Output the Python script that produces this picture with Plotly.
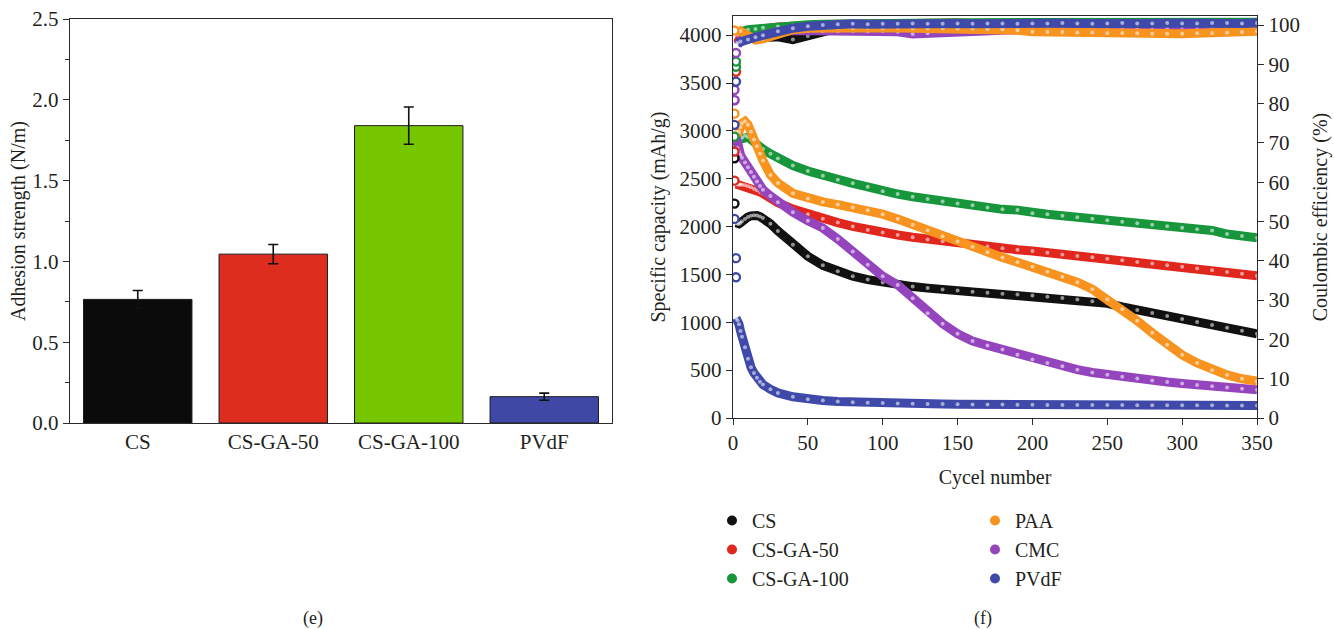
import plotly.graph_objects as go

# ---------------- (e) adhesion strength ----------------
binders = ["CS", "CS-GA-50", "CS-GA-100", "PVdF"]
adhesion = [0.765, 1.045, 1.840, 0.163]
adhesion_err = [0.055, 0.060, 0.115, 0.022]
bar_colors = ["#0b0b0b", "#dc2d1e", "#76c600", "#3f49a5"]

# ---------------- (f) cycling performance ----------------
series_names = ["CS", "CS-GA-50", "CS-GA-100", "PAA", "CMC", "PVdF"]
series_colors = ["#111111", "#e0261d", "#17963b", "#f7931e", "#9444bd", "#3f49a9"]

# cycle numbers at which capacity is listed
cycles = [2, 3, 4, 5, 6, 8, 10, 12, 14, 16, 18, 20, 25, 30,
          40, 50, 60, 70, 80, 90, 100, 110, 120, 130, 140, 150, 160, 170,
          180, 190, 200, 210, 220, 230, 240, 250, 260, 270, 280, 290, 300,
          310, 320, 330, 340, 350]

cap_cs = [2040, 2030, 2030, 2040, 2055, 2080, 2100, 2112, 2118, 2115, 2105, 2090, 2030, 1955,
          1810, 1690, 1595, 1532, 1482, 1446, 1416, 1392, 1373, 1357, 1343, 1331, 1320, 1309,
          1298, 1289, 1279, 1266, 1253, 1238, 1220, 1198, 1160, 1128, 1097, 1065, 1035,
          1003, 972, 942, 911, 880]
cap_ga50 = [2445, 2440, 2440, 2440, 2438, 2432, 2422, 2410, 2396, 2380, 2362, 2345, 2295, 2250,
            2183, 2128, 2082, 2042, 2002, 1965, 1938, 1912, 1888, 1866, 1846, 1828, 1810, 1791,
            1773, 1757, 1745, 1727, 1708, 1692, 1679, 1665, 1648, 1631, 1613, 1596, 1579,
            1561, 1544, 1526, 1507, 1487]
cap_ga100 = [2900, 2905, 2910, 2918, 2930, 2948, 2935, 2910, 2882, 2856, 2832, 2810, 2760, 2712,
             2637, 2580, 2532, 2488, 2452, 2415, 2368, 2340, 2312, 2287, 2263, 2242, 2222, 2200,
             2180, 2172, 2140, 2128, 2112, 2097, 2082, 2067, 2051, 2036, 2019, 2003, 1987,
             1973, 1960, 1922, 1902, 1882]
cap_paa = [2990, 2960, 2990, 3040, 3080, 3100, 3065, 2990, 2910, 2840, 2760, 2690, 2540, 2455,
           2348, 2293, 2258, 2230, 2200, 2170, 2130, 2078, 2018, 1958, 1900, 1843, 1788, 1733,
           1678, 1627, 1580, 1528, 1475, 1418, 1345, 1240, 1135, 1015, 890, 765, 660,
           575, 500, 450, 410, 385]
cap_cmc = [2950, 2820, 2780, 2750, 2720, 2670, 2620, 2570, 2520, 2470, 2425, 2385, 2320, 2255,
           2150, 2060, 1985, 1870, 1740, 1600, 1481, 1390, 1250, 1095, 985, 880, 805, 758,
           715, 662, 612, 575, 540, 505, 476, 452, 432, 412, 393, 376, 360,
           345, 331, 318, 306, 295]
cap_pvdf = [1045, 1020, 980, 910, 850, 740, 620, 530, 470, 420, 380, 350, 300, 262,
            222, 195, 182, 172, 165, 160, 156, 152, 149, 147, 145, 143, 142, 141,
            140, 139, 138, 137, 137, 136, 136, 135, 135, 134, 134, 133, 133,
            132, 132, 131, 131, 130]

# first-cycle capacity points
first_cyc_cs, first_cap_cs = [1], [2240]
first_cyc_ga50, first_cap_ga50 = [1], [2480]
first_cyc_ga100, first_cap_ga100 = [1], [2900]
first_cyc_paa, first_cap_paa = [1], [3180]
first_cyc_cmc, first_cap_cmc = [1], [3320]
first_cyc_pvdf, first_cap_pvdf = [1, 2, 2], [2080, 1670, 1470]

# coulombic efficiency
ce_cycles = [3, 5, 10, 15, 20, 30, 40, 50, 60, 70, 80, 90, 100, 110, 120, 130, 140,
             150, 160, 170, 180, 190, 200, 210, 220, 230, 240, 250, 260, 270, 280,
             290, 300, 310, 320, 330, 340, 350]
ce_cs = [95.0, 96.0, 96.6, 96.8, 96.8, 97.0, 96.3, 97.2, 98.4, 99.2, 99.6, 99.8, 99.9, 100.0,
         100.0, 100.1, 100.0, 100.1, 100.1, 100.2, 100.1, 100.2, 100.2, 100.1, 100.2, 100.2,
         100.3, 100.2, 100.2, 100.3, 100.2, 100.3, 100.3, 100.2, 100.3, 100.3, 100.3, 100.3]
ce_ga50 = [95.5, 97.0, 98.0, 98.6, 99.0, 99.5, 99.8, 100.0, 100.1, 100.2, 100.2, 100.3, 100.3,
           100.4, 100.3, 100.4, 100.4, 100.5, 100.4, 100.5, 100.5, 100.5, 100.5, 100.5, 100.5,
           100.5, 100.5, 100.5, 100.5, 100.5, 100.5, 100.5, 100.5, 100.5, 100.5, 100.5, 100.5, 100.5]
ce_ga100 = [97.5, 98.3, 98.8, 99.0, 99.3, 99.6, 99.9, 100.1, 100.2, 100.3, 100.3, 100.4, 100.4,
            100.5, 100.5, 100.5, 100.5, 100.6, 100.6, 100.6, 100.6, 100.6, 100.6, 100.6, 100.6,
            100.6, 100.6, 100.7, 100.7, 100.7, 100.7, 100.7, 100.7, 100.7, 100.7, 100.7, 100.7, 100.7]
ce_paa = [98.9, 98.5, 97.0, 96.2, 96.5, 97.8, 98.8, 99.2, 99.3, 99.3, 99.2, 99.3, 99.2, 99.3,
          99.2, 99.2, 99.2, 99.1, 99.1, 99.0, 98.9, 98.7, 98.3, 98.2, 98.2, 98.1, 98.1, 98.0,
          98.0, 97.9, 97.8, 97.8, 97.8, 97.9, 98.0, 98.1, 98.2, 98.4]
ce_cmc = [95.0, 96.0, 96.5, 97.0, 97.6, 98.3, 98.6, 98.5, 98.4, 98.4, 98.5, 98.4, 98.5, 98.3,
          97.7, 97.9, 98.4, 98.5, 98.6, 98.6, 98.7, 98.8, 99.2, 99.3, 99.3, 99.4, 99.3, 99.4,
          99.4, 99.4, 99.5, 99.4, 99.5, 99.5, 99.5, 99.6, 99.6, 99.6]
ce_pvdf = [95.4, 95.8, 96.3, 96.9, 97.4, 98.4, 99.2, 99.7, 100.0, 100.2, 100.3, 100.2, 100.3,
           100.3, 100.4, 100.3, 100.3, 100.4, 100.3, 100.4, 100.4, 100.3, 100.4, 100.4, 100.5,
           100.4, 100.3, 100.4, 100.5, 100.4, 100.4, 100.5, 100.4, 100.4, 100.5, 100.5, 100.4, 100.5]

# first-cycle efficiency points
first_ce_cyc_cs, first_ce_cs = [1], [66.1]
first_ce_cyc_ga50, first_ce_ga50 = [1, 2], [67.8, 88.1]
first_ce_cyc_ga100, first_ce_ga100 = [1, 2, 2], [71.6, 89.4, 90.7]
first_ce_cyc_paa, first_ce_paa = [1], [98.6]
first_ce_cyc_cmc, first_ce_cmc = [1, 1, 2], [80.9, 83.5, 92.9]
first_ce_cyc_pvdf, first_ce_pvdf = [1, 2], [74.6, 85.6]

cap_main = [cap_cs, cap_ga50, cap_ga100, cap_paa, cap_cmc, cap_pvdf]
cap_first = [(first_cyc_cs, first_cap_cs), (first_cyc_ga50, first_cap_ga50),
             (first_cyc_ga100, first_cap_ga100), (first_cyc_paa, first_cap_paa),
             (first_cyc_cmc, first_cap_cmc), (first_cyc_pvdf, first_cap_pvdf)]
ce_main = [ce_cs, ce_ga50, ce_ga100, ce_paa, ce_cmc, ce_pvdf]
ce_first = [(first_ce_cyc_cs, first_ce_cs), (first_ce_cyc_ga50, first_ce_ga50),
            (first_ce_cyc_ga100, first_ce_ga100), (first_ce_cyc_paa, first_ce_paa),
            (first_ce_cyc_cmc, first_ce_cmc), (first_ce_cyc_pvdf, first_ce_pvdf)]

FONT = "Liberation Serif"
TXT = "#231f20"
AX = "#2b2b2b"
W, H = 1334, 629
TICK_SIZE = 21
TITLE_SIZE = 20

fig = go.Figure()

# bars with error bars
fig.add_trace(go.Bar(
    x=binders, y=adhesion,
    marker=dict(color=bar_colors, line=dict(color="#1a1a1a", width=1)),
    error_y=dict(type="data", array=adhesion_err, visible=True,
                 color="#111111", thickness=1.6, width=5),
    width=0.8, xaxis="x", yaxis="y", showlegend=False,
))

# drawing order so that later curves sit on top where they cross
order = [0, 1, 2, 4, 3, 5]
band_w = 9

for i in order:
    col = series_colors[i]
    # efficiency band (right axis)
    fig.add_trace(go.Scatter(
        x=ce_cycles, y=ce_main[i], mode="lines+markers",
        line=dict(color=col, width=band_w),
        marker=dict(size=4, color="rgba(255,255,255,0.55)", line=dict(width=0)),
        xaxis="x2", yaxis="y3", showlegend=False, hoverinfo="skip",
    ))
    cx, cy = ce_first[i]
    fig.add_trace(go.Scatter(
        x=cx, y=cy, mode="markers",
        marker=dict(size=8, color="white", line=dict(color=col, width=2.4)),
        xaxis="x2", yaxis="y3", showlegend=False, hoverinfo="skip",
    ))

for i in order:
    col = series_colors[i]
    # capacity band (left axis)
    fig.add_trace(go.Scatter(
        x=cycles, y=cap_main[i], mode="lines+markers",
        line=dict(color=col, width=band_w),
        marker=dict(size=4, color="rgba(255,255,255,0.55)", line=dict(width=0)),
        xaxis="x2", yaxis="y2", showlegend=False, hoverinfo="skip",
    ))
    fx, fy = cap_first[i]
    fig.add_trace(go.Scatter(
        x=fx, y=fy, mode="markers",
        marker=dict(size=8, color="white", line=dict(color=col, width=2.4)),
        xaxis="x2", yaxis="y2", showlegend=False, hoverinfo="skip",
    ))

# legend entries, two columns
for k, name in enumerate(series_names):
    fig.add_trace(go.Scatter(
        x=[None], y=[None], mode="markers", name=name,
        marker=dict(size=10, color=series_colors[k], line=dict(width=0)),
        xaxis="x2", yaxis="y2",
        legend="legend" if k < 3 else "legend2",
        legendgroup=name,
    ))

axis_common = dict(
    showline=True, linecolor=AX, linewidth=1.4, mirror=True,
    showgrid=False, zeroline=False, automargin=False,
    tickfont=dict(family=FONT, size=TICK_SIZE, color=TXT),
    ticklen=6, tickwidth=1.4, tickcolor=AX,
)

legend_common = dict(
    orientation="v", xanchor="left", yanchor="top",
    font=dict(family=FONT, size=20, color=TXT),
    bgcolor="rgba(0,0,0,0)", tracegroupgap=0, itemsizing="trace",
)

title_font = dict(family=FONT, size=TITLE_SIZE, color=TXT)

fig.update_layout(
    width=W, height=H,
    margin=dict(l=0, r=0, t=0, b=0, autoexpand=False),
    paper_bgcolor="white", plot_bgcolor="white",
    font=dict(family=FONT, size=20, color=TXT),
    bargap=0.2,
    xaxis=dict(domain=[70 / W, 612 / W], anchor="y", type="category",
               range=[-0.5, 3.5], ticks="", **axis_common),
    yaxis=dict(domain=[1 - 423 / H, 1 - 19 / H], anchor="x", range=[0, 2.5],
               dtick=0.5, tickformat=".1f", ticks="outside",
               minor=dict(dtick=0.25, ticks="outside", ticklen=4, tickcolor=AX, tickwidth=1.2),
               title=dict(text="Adhesion strength (N/m)", standoff=1, font=title_font),
               **axis_common),
    xaxis2=dict(domain=[733 / W, 1257 / W], anchor="y2", range=[0, 350], dtick=50,
                ticks="outside",
                title=dict(text="Cycel number", standoff=15, font=title_font),
                **axis_common),
    yaxis2=dict(domain=[1 - 418 / H, 1 - 16 / H], anchor="x2", range=[0, 4200], dtick=500,
                ticks="outside",
                title=dict(text="Specific capacity (mAh/g)", standoff=8, font=title_font),
                **axis_common),
    yaxis3=dict(overlaying="y2", anchor="x2", side="right", range=[0, 102.3], dtick=10,
                ticks="outside", showline=True, linecolor=AX, linewidth=1.4,
                showgrid=False, zeroline=False, automargin=False,
                tickfont=dict(family=FONT, size=TICK_SIZE, color=TXT),
                ticklen=6, tickwidth=1.4, tickcolor=AX,
                title=dict(text="Coulombic efficiency (%)", standoff=14, font=title_font)),
    legend=dict(x=712 / W, y=1 - 501 / H, **legend_common),
    legend2=dict(x=975 / W, y=1 - 501 / H, **legend_common),
    annotations=[
        dict(text="(e)", x=313 / W, y=1 - 618 / H, xref="paper", yref="paper",
             xanchor="center", yanchor="middle",
             showarrow=False, font=dict(family=FONT, size=18, color=TXT)),
        dict(text="(f)", x=983 / W, y=1 - 618 / H, xref="paper", yref="paper",
             xanchor="center", yanchor="middle",
             showarrow=False, font=dict(family=FONT, size=18, color=TXT)),
    ],
)

fig.write_html("out.html")
